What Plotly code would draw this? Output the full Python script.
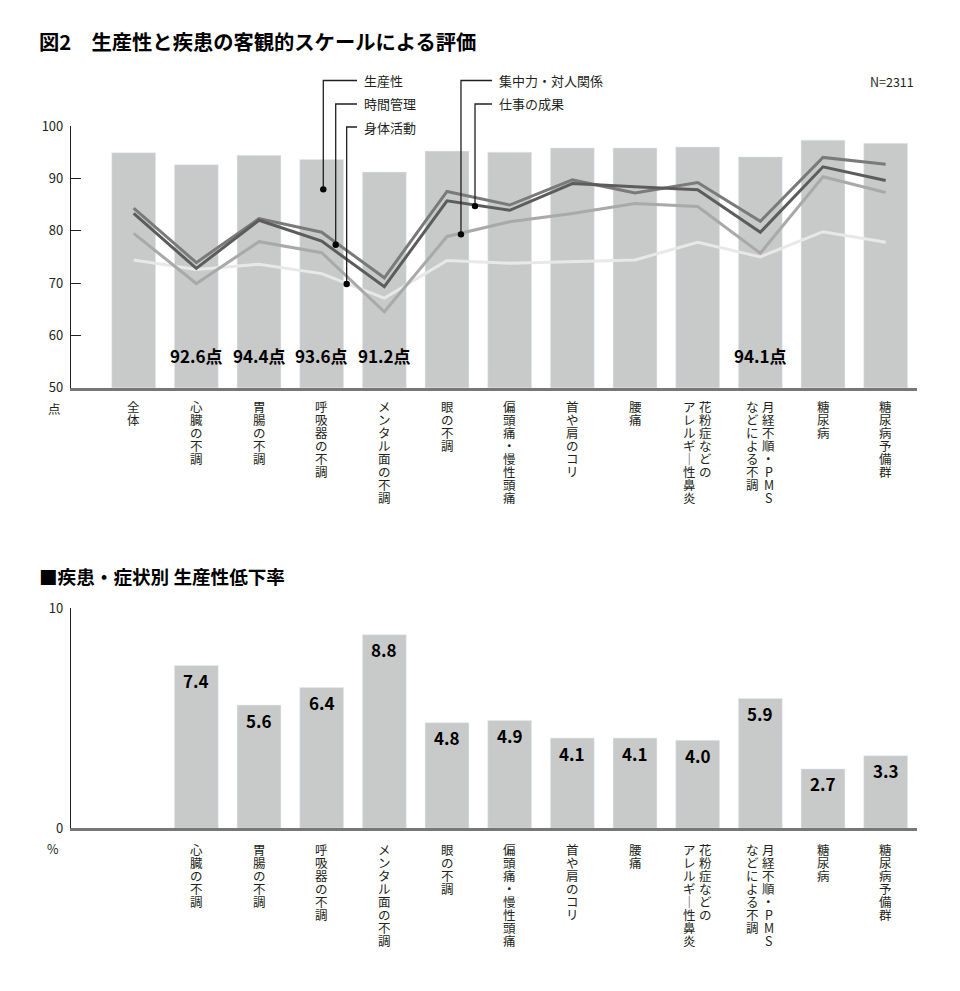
import plotly.graph_objects as go

# the page body adds an 8px margin, so the figure is drawn 8px smaller and
# reference pixel positions are shifted by that offset
OFF = 8
W, H = 960 - OFF, 991 - OFF
FONT = "Noto Sans CJK JP"
TXT = "#231f20"

# ---------------- data ----------------
categories = ["全体", "心臓の不調", "胃腸の不調", "呼吸器の不調", "メンタル面の不調", "眼の不調",
              "偏頭痛・慢性頭痛", "首や肩のコリ", "腰痛", "花粉症などのアレルギー性鼻炎",
              "月経不順・PMSなどによる不調", "糖尿病", "糖尿病予備群"]
# vertical tick labels: columns read right-to-left
label_columns = [["全体"], ["心臓の不調"], ["胃腸の不調"], ["呼吸器の不調"], ["メンタル面の不調"],
                 ["眼の不調"], ["偏頭痛・慢性頭痛"], ["首や肩のコリ"], ["腰痛"],
                 ["花粉症などの", "アレルギｰ性鼻炎"], ["月経不順・PMS", "などによる不調"],
                 ["糖尿病"], ["糖尿病予備群"]]

productivity = [94.9, 92.6, 94.4, 93.6, 91.2, 95.2, 95.0, 95.8, 95.8, 96.0, 94.1, 97.3, 96.7]
work_results = [84.3, 73.9, 82.3, 79.7, 71.0, 87.5, 84.9, 89.7, 87.2, 89.2, 81.8, 94.0, 92.7]
time_management = [83.3, 72.8, 82.0, 78.0, 69.3, 85.7, 83.9, 89.0, 88.4, 87.8, 79.7, 92.2, 89.6]
concentration = [79.5, 69.9, 77.9, 75.8, 64.5, 78.9, 81.7, 83.3, 85.2, 84.6, 75.7, 90.3, 87.3]
physical_activity = [74.4, 72.6, 73.6, 71.8, 67.1, 74.3, 73.8, 74.1, 74.4, 77.8, 75.0, 79.8, 77.8]
highlighted = ["心臓の不調", "胃腸の不調", "呼吸器の不調", "メンタル面の不調", "月経不順・PMSなどによる不調"]

decline_categories = categories[1:]
decline_rate = [7.4, 5.6, 6.4, 8.8, 4.8, 4.9, 4.1, 4.1, 4.0, 5.9, 2.7, 3.3]

top_ticks = [50, 60, 70, 80, 90, 100]
bottom_ticks = [0, 10]

# ---------------- geometry (reference pixels) ----------------
PLOT_L, PLOT_R = 71, 917
TOP_Y100, TOP_Y50 = 126, 387.7
BOT_Y10, BOT_Y0 = 608.3, 828.3
XRANGE = [-1, 12.5]


def px_x(px):
    return (px - OFF) / W


def px_y(py):
    return 1 - (py - OFF) / H


xdom = [px_x(PLOT_L), px_x(PLOT_R)]
ydom_top = [px_y(TOP_Y50), px_y(TOP_Y100)]
ydom_bot = [px_y(BOT_Y0), px_y(BOT_Y10)]


def idx_to_paper(i):
    return xdom[0] + (i - XRANGE[0]) / (XRANGE[1] - XRANGE[0]) * (xdom[1] - xdom[0])


def val_to_paper_top(v):
    return ydom_top[0] + (v - 50) / 50 * (ydom_top[1] - ydom_top[0])


fig = go.Figure()

BAR = "#c8c9c9"
fig.add_trace(go.Bar(x=categories, y=productivity, marker_color=BAR, width=0.7,
                     xaxis="x", yaxis="y", name="生産性", hoverinfo="skip"))
line_specs = [
    (physical_activity, "#e8e8e8", "身体活動"),
    (concentration, "#a9a9a9", "集中力・対人関係"),
    (work_results, "#7a7a7a", "仕事の成果"),
    (time_management, "#5c5c5c", "時間管理"),
]
for vals, col, nm in line_specs:
    fig.add_trace(go.Scatter(x=categories, y=vals, mode="lines", name=nm,
                             line=dict(color=col, width=3), xaxis="x", yaxis="y",
                             hoverinfo="skip"))

fig.add_trace(go.Bar(x=decline_categories, y=decline_rate, marker_color=BAR, width=0.7,
                     xaxis="x2", yaxis="y2", name="生産性低下率", hoverinfo="skip"))

ann = []
shapes = []

# bar value labels (top)
for c, v in zip(categories, productivity):
    if c in highlighted:
        ann.append(dict(x=c, xref="x", y=56.2, yref="y", text=f"<b>{v:.1f}点</b>",
                        showarrow=False, font=dict(family=FONT, size=17, color="#000")))
# bar value labels (bottom)
for c, v in zip(decline_categories, decline_rate):
    ann.append(dict(x=c, xref="x2", y=v, yref="y2", yanchor="middle", yshift=-15,
                    text=f"<b>{v:.1f}</b>", showarrow=False,
                    font=dict(family=FONT, size=17, color="#000")))

# vertical category labels
COL_GAP = 16.5
PITCH = 13.0


def vertical_labels(skip_first, axis_bottom_px, first_offset):
    for i, cols in enumerate(label_columns):
        if skip_first and i == 0:
            continue
        n = len(cols)
        for k, col in enumerate(cols):
            xs = ((n - 1) / 2 - k) * COL_GAP
            for j, ch in enumerate(col):
                if ch == "ｰ":
                    ch = "｜"
                ann.append(dict(x=idx_to_paper(i), xref="paper", y=px_y(axis_bottom_px), yref="paper",
                                xanchor="center", yanchor="middle", xshift=xs,
                                yshift=-(first_offset + j * PITCH), text=ch, showarrow=False,
                                font=dict(family=FONT, size=12.5, color=TXT)))


vertical_labels(False, TOP_Y50, 18.8)
vertical_labels(True, BOT_Y0, 21.5)

# leader-line legend: (label, category position, value, label row px, line end px, label x px)
legend_items = [
    ("生産性", 3.026, 87.9, 80.5, 357, 362),
    ("時間管理", 3.224, 77.3, 104, 357, 362),
    ("身体活動", 3.399, 69.8, 127, 357, 362),
    ("集中力・対人関係", 5.223, 79.3, 80.5, 492, 497),
    ("仕事の成果", 5.447, 84.7, 104, 492, 497),
]
for name, pos, val, row, lx, tx in legend_items:
    xp = idx_to_paper(pos)
    yp = val_to_paper_top(val)
    shapes.append(dict(type="path", xref="paper", yref="paper",
                       path=f"M {xp} {yp} L {xp} {px_y(row)} L {px_x(lx)} {px_y(row)}",
                       line=dict(color="#231f20", width=1.3)))
    r = 3.2
    shapes.append(dict(type="circle", xref="paper", yref="paper",
                       x0=xp - r / W, x1=xp + r / W, y0=yp - r / H, y1=yp + r / H,
                       fillcolor="#000", line=dict(color="#000", width=0)))
    ann.append(dict(x=px_x(tx), xref="paper", y=px_y(row), yref="paper", xanchor="left",
                    yanchor="middle", text=name, showarrow=False,
                    font=dict(family=FONT, size=13, color=TXT)))

# titles & misc text
ann.append(dict(x=px_x(37), y=px_y(41.5), xref="paper", yref="paper", xanchor="left", yanchor="middle",
                text="<b>図2　生産性と疾患の客観的スケールによる評価</b>", showarrow=False,
                font=dict(family=FONT, size=20.3, color="#000")))
ann.append(dict(x=px_x(37), y=px_y(575), xref="paper", yref="paper", xanchor="left", yanchor="middle",
                text="<b>■疾患・症状別 生産性低下率</b>", showarrow=False,
                font=dict(family=FONT, size=18.6, color="#000")))
ann.append(dict(x=px_x(916), y=px_y(81), xref="paper", yref="paper", xanchor="right", yanchor="middle",
                text="N=2311", showarrow=False, font=dict(family=FONT, size=12.5, color=TXT)))
ann.append(dict(x=px_x(54), y=px_y(408), xref="paper", yref="paper", xanchor="center", yanchor="middle",
                text="点", showarrow=False, font=dict(family=FONT, size=12.5, color=TXT)))
ann.append(dict(x=px_x(53), y=px_y(848), xref="paper", yref="paper", xanchor="center", yanchor="middle",
                text="%", showarrow=False, font=dict(family=FONT, size=12.5, color=TXT)))

xaxis_common = dict(domain=xdom, range=XRANGE, type="category", categoryorder="array",
                    categoryarray=categories, showticklabels=False, ticks="", showgrid=False,
                    zeroline=False, showline=True, linecolor="#777777", linewidth=2.5,
                    fixedrange=True, automargin=False)
yaxis_common = dict(ticks="inside", ticklen=10, tickcolor=TXT, tickwidth=1.2, showgrid=False,
                    zeroline=False, showline=True, linecolor=TXT, linewidth=1.2,
                    tickfont=dict(family=FONT, size=13, color=TXT), ticklabelstandoff=4,
                    fixedrange=True, automargin=False)

fig.update_layout(
    width=W, height=H,
    margin=dict(l=0, r=0, t=0, b=0, pad=0, autoexpand=False),
    paper_bgcolor="white", plot_bgcolor="white",
    showlegend=False, bargap=0.3,
    font=dict(family=FONT, color=TXT),
    xaxis=dict(anchor="y", **xaxis_common),
    yaxis=dict(anchor="x", domain=ydom_top, range=[50, 100], tickvals=top_ticks, **yaxis_common),
    xaxis2=dict(anchor="y2", **xaxis_common),
    yaxis2=dict(anchor="x2", domain=ydom_bot, range=[0, 10], tickvals=bottom_ticks, **yaxis_common),
    annotations=ann,
    shapes=shapes,
)

fig.write_html("out.html", config=dict(displayModeBar=False))
